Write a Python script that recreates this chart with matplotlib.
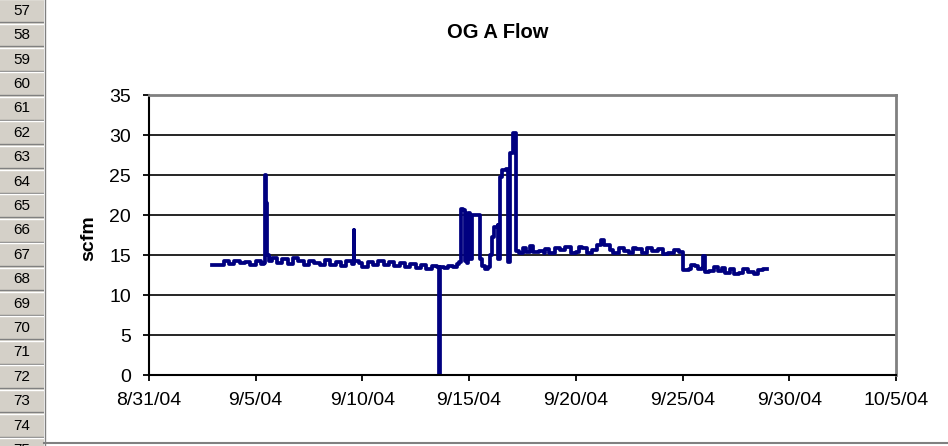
import pandas as pd
import matplotlib
matplotlib.use('Agg')
import matplotlib.pyplot as plt
import matplotlib.dates as mdates
from matplotlib.patches import Rectangle

plt.rcParams['font.family'] = ['Liberation Sans', 'DejaVu Sans']

# flow readings (date/time, scfm)
times = ['2004-09-02 23:00', '2004-09-03 06:00', '2004-09-03 12:00', '2004-09-03 18:00',
         '2004-09-04 00:00', '2004-09-04 06:00', '2004-09-04 12:00', '2004-09-04 18:00',
         '2004-09-05 00:00', '2004-09-05 06:00', '2004-09-05 09:00', '2004-09-05 10:00',
         '2004-09-05 11:00', '2004-09-05 12:00', '2004-09-05 13:00', '2004-09-05 15:00',
         '2004-09-05 18:00', '2004-09-06 00:00', '2004-09-06 06:00', '2004-09-06 12:00',
         '2004-09-06 18:00', '2004-09-07 00:00', '2004-09-07 06:00', '2004-09-07 12:00',
         '2004-09-07 18:00', '2004-09-08 00:00', '2004-09-08 06:00', '2004-09-08 12:00',
         '2004-09-08 18:00', '2004-09-09 00:00', '2004-09-09 06:00', '2004-09-09 12:00',
         '2004-09-09 14:00', '2004-09-09 15:00', '2004-09-09 20:00', '2004-09-10 00:00',
         '2004-09-10 06:00', '2004-09-10 12:00', '2004-09-10 18:00', '2004-09-11 00:00',
         '2004-09-11 06:00', '2004-09-11 12:00', '2004-09-11 18:00', '2004-09-12 00:00',
         '2004-09-12 06:00', '2004-09-12 12:00', '2004-09-12 18:00', '2004-09-13 00:00',
         '2004-09-13 06:00', '2004-09-13 12:00', '2004-09-13 14:00', '2004-09-13 15:00',
         '2004-09-13 20:00', '2004-09-14 00:00', '2004-09-14 06:00', '2004-09-14 10:00',
         '2004-09-14 13:00', '2004-09-14 15:00', '2004-09-14 17:00', '2004-09-14 19:00',
         '2004-09-14 22:00', '2004-09-14 23:00', '2004-09-15 01:00', '2004-09-15 03:00',
         '2004-09-15 11:00', '2004-09-15 12:00', '2004-09-15 15:00', '2004-09-15 18:00',
         '2004-09-15 21:00', '2004-09-15 23:00', '2004-09-16 02:00', '2004-09-16 04:00',
         '2004-09-16 08:00', '2004-09-16 09:00', '2004-09-16 11:00', '2004-09-16 13:00',
         '2004-09-16 18:00', '2004-09-16 20:00', '2004-09-16 22:00', '2004-09-17 01:00',
         '2004-09-17 03:00', '2004-09-17 05:00', '2004-09-17 08:00', '2004-09-17 12:00',
         '2004-09-17 16:00', '2004-09-17 20:00', '2004-09-18 00:00', '2004-09-18 06:00',
         '2004-09-18 12:00', '2004-09-18 13:00', '2004-09-18 18:00', '2004-09-19 00:00',
         '2004-09-19 06:00', '2004-09-19 12:00', '2004-09-19 18:00', '2004-09-20 00:00',
         '2004-09-20 03:00', '2004-09-20 07:00', '2004-09-20 12:00', '2004-09-20 18:00',
         '2004-09-21 00:00', '2004-09-21 04:00', '2004-09-21 08:00', '2004-09-21 14:00',
         '2004-09-21 18:00', '2004-09-22 00:00', '2004-09-22 06:00', '2004-09-22 12:00',
         '2004-09-22 16:00', '2004-09-22 20:00', '2004-09-23 02:00', '2004-09-23 08:00',
         '2004-09-23 14:00', '2004-09-23 20:00', '2004-09-24 02:00', '2004-09-24 08:00',
         '2004-09-24 14:00', '2004-09-24 20:00', '2004-09-25 00:00', '2004-09-25 01:00',
         '2004-09-25 07:00', '2004-09-25 09:00', '2004-09-25 14:00', '2004-09-25 17:00',
         '2004-09-25 22:00', '2004-09-25 23:00', '2004-09-26 01:00', '2004-09-26 06:00',
         '2004-09-26 11:00', '2004-09-26 16:00', '2004-09-26 20:00', '2004-09-27 00:00',
         '2004-09-27 05:00', '2004-09-27 10:00', '2004-09-27 16:00', '2004-09-27 20:00',
         '2004-09-28 02:00', '2004-09-28 08:00', '2004-09-28 13:00', '2004-09-28 18:00',
         '2004-09-28 23:00']
flow = [13.7, 13.8, 14.2, 13.9,
        14.3, 14.0, 14.1, 13.8,
        14.2, 13.9, 14.0, 19.5,
        25.0, 21.5, 15.0, 14.2,
        14.6, 14.0, 14.5, 13.9,
        14.6, 14.2, 13.8, 14.3,
        14.0, 13.7, 14.4, 13.8,
        14.1, 13.6, 14.2, 13.9,
        18.1, 14.3, 14.0, 13.5,
        14.1, 13.8, 14.2, 13.7,
        14.1, 13.6, 14.0, 13.5,
        13.9, 13.4, 13.7, 13.3,
        13.6, 13.5, 0.0, 13.5,
        13.4, 13.6, 13.5, 13.9,
        14.1, 20.7, 20.6, 14.2,
        14.0, 20.2, 14.5, 20.0,
        20.0, 14.5, 13.6, 13.2,
        13.5, 15.0, 17.3, 18.5,
        18.7, 14.5, 24.8, 25.6,
        25.8, 14.1, 27.8, 30.2,
        30.2, 15.5, 15.3, 15.9,
        15.4, 16.1, 15.4, 15.5,
        15.2, 15.8, 15.2, 15.9,
        15.6, 16.0, 15.2, 15.4,
        16.0, 15.9, 15.3, 15.6,
        16.3, 16.9, 16.2, 15.6,
        15.3, 15.9, 15.5, 15.2,
        15.9, 15.7, 15.3, 15.9,
        15.5, 15.7, 15.1, 15.3,
        15.6, 15.4, 15.0, 13.1,
        13.2, 13.8, 13.6, 13.2,
        13.4, 14.9, 12.9, 13.0,
        13.5, 13.0, 13.4, 12.7,
        13.3, 12.6, 12.8, 13.3,
        12.9, 12.6, 13.1, 13.3,
        13.2]
row_numbers = list(range(57, 76))

t = pd.to_datetime(times)

fig = plt.figure(figsize=(9.48, 4.46), dpi=100)

# spreadsheet row header strip on the left
hdr = fig.add_axes([0, 0, 44/948, 1])
hdr.set_xlim(0, 44)
hdr.set_ylim(446, 0)
hdr.axis('off')
for i, r in enumerate(row_numbers):
    top = -1.7 + i*24.4
    hdr.add_patch(Rectangle((0, top), 44, 24.4, facecolor='#d4d0c8', edgecolor='none'))
    hdr.plot([0, 44], [top + 0.8, top + 0.8], color='white', lw=1)
    hdr.plot([0, 44], [top + 23.6, top + 23.6], color='#808080', lw=1)
    hdr.text(22, top + 12.6, str(r), ha='center', va='center', fontsize=11,
             color='black', clip_on=True)
fig.add_artist(plt.Line2D([44.5/948, 44.5/948], [0, 1], color='#808080', lw=1))
fig.add_artist(plt.Line2D([44/948, 1], [1 - 442.5/446, 1 - 442.5/446], color='#808080', lw=1.5))

ax = fig.add_axes([149/948, 1 - 375/446, 747/948, 280/446])
ax.plot(t, flow, color='#000080', lw=2.7, drawstyle='steps-post')

ax.set_xlim(pd.Timestamp('2004-08-31'), pd.Timestamp('2004-10-05'))
ax.set_ylim(0, 35)
ax.set_yticks(range(0, 36, 5))
ticks = pd.date_range('2004-08-31', '2004-10-05', freq='5D')
ax.set_xticks(ticks)
ax.set_xticklabels([f'{d.month}/{d.day}/{d.strftime("%y")}' for d in ticks])

ax.yaxis.grid(True, color='black', lw=1.2)
ax.get_ygridlines()[-1].set_visible(False)
ax.set_axisbelow(True)
for s in ['top', 'right']:
    ax.spines[s].set_color('#808080')
    ax.spines[s].set_linewidth(2)
for s in ['left', 'bottom']:
    ax.spines[s].set_color('black')
    ax.spines[s].set_linewidth(1.5)
ax.tick_params(axis='both', direction='out', length=4, width=1.3, labelsize=14)
ax.tick_params(axis='y', pad=9)
ax.tick_params(axis='x', pad=8)

fig.text(498/948, 1 - 33/446, 'OG A Flow', ha='center', va='center',
         fontsize=14.5, fontweight='bold')
fig.text(89/948, 1 - 238/446, 'scfm', ha='center', va='center', rotation=90,
         fontsize=14, fontweight='bold')

fig.savefig('out.png', dpi=100)
